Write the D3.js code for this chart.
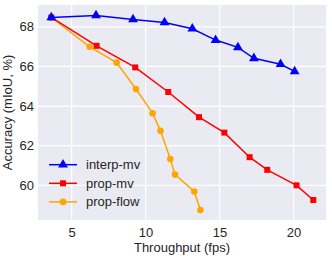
<!DOCTYPE html>
<html>
<meta charset="utf-8">
<script src="https://d3js.org/d3.v7.min.js"></script>
<style>
  body { margin: 0; background: #fff; }
  text { font-family: "Liberation Sans", Arial, sans-serif; fill: #262626; }
</style>
<body>
<div id="chart"></div>
<script>

// data
var interpX = [3.63, 6.65, 9.15, 11.28, 13.16, 14.73, 16.24, 17.32, 19.12, 20.07];
var interpY = [68.47, 68.57, 68.37, 68.22, 67.90, 67.33, 66.96, 66.41, 66.11, 65.75];
var propMvX = [3.63, 6.69, 9.30, 11.53, 13.61, 15.32, 17.03, 18.22, 20.20, 21.33];
var propMvY = [68.47, 67.04, 65.95, 64.71, 63.44, 62.66, 61.42, 60.78, 60.00, 59.26];
var flowX = [3.63, 6.22, 8.04, 9.35, 10.47, 11.01, 11.67, 11.99, 13.29, 13.70];
var flowY = [68.47, 66.99, 66.19, 64.86, 63.64, 62.75, 61.33, 60.54, 59.69, 58.75];
var xTicks = [5, 10, 15, 20];
var yTicks = [60, 62, 64, 66, 68];

var series = [
  {name: "interp-mv", xs: interpX, ys: interpY, color: "#0000ff", shape: d3.symbolTriangle, size: 42},
  {name: "prop-mv", xs: propMvX, ys: propMvY, color: "#ff0000", shape: d3.symbolSquare, size: 36},
  {name: "prop-flow", xs: flowX, ys: flowY, color: "#ffa500", shape: d3.symbolCircle, size: 34}
];

var W = 332, H = 256;
var margin = {top: 5, right: 6, bottom: 36, left: 38};
var width = W - margin.left - margin.right,
    height = H - margin.top - margin.bottom;

var svg = d3.select("#chart").append("svg")
    .attr("width", W).attr("height", H)
  .append("g")
    .attr("transform", "translate(" + margin.left + "," + margin.top + ")");

var x = d3.scaleLinear().domain([2.73, 22.19]).range([0, width]);
var y = d3.scaleLinear().domain([58.25, 69.1]).range([height, 0]);

svg.append("rect").attr("width", width).attr("height", height).attr("fill", "#eaeaf2");

// grid
svg.selectAll(".gx").data(xTicks).enter().append("line")
  .attr("x1", d => x(d)).attr("x2", d => x(d))
  .attr("y1", 0).attr("y2", height)
  .attr("stroke", "#fff").attr("stroke-width", 1.2);
svg.selectAll(".gy").data(yTicks).enter().append("line")
  .attr("y1", d => y(d)).attr("y2", d => y(d))
  .attr("x1", 0).attr("x2", width)
  .attr("stroke", "#fff").attr("stroke-width", 1.2);

// axes
var xAxis = svg.append("g")
  .attr("transform", "translate(0," + height + ")")
  .call(d3.axisBottom(x).tickValues(xTicks).tickSize(0).tickPadding(8));
var yAxis = svg.append("g")
  .call(d3.axisLeft(y).tickValues(yTicks).tickSize(0).tickPadding(4));
[xAxis, yAxis].forEach(function(a) {
  a.select(".domain").remove();
  a.selectAll("text").style("font-size", "13px").attr("fill", "#262626")
    .style("font-family", "'Liberation Sans', Arial, sans-serif");
});

svg.append("text")
  .attr("x", width / 2).attr("y", height + 32)
  .attr("text-anchor", "middle").style("font-size", "13px")
  .text("Throughput (fps)");
svg.append("text")
  .attr("transform", "translate(" + (-26) + "," + (height / 2) + ") rotate(-90)")
  .attr("text-anchor", "middle").style("font-size", "13px")
  .text("Accuracy (mIoU, %)");

var line = d3.line().x(d => x(d[0])).y(d => y(d[1]));

// draw last series first so blue ends on top
series.slice().reverse().forEach(function(s) {
  var pts = s.xs.map((v, i) => [v, s.ys[i]]);
  var g = svg.append("g");
  g.append("path").datum(pts)
    .attr("d", line).attr("fill", "none")
    .attr("stroke", s.color).attr("stroke-width", 1.5);
  g.selectAll("path.m").data(pts).enter().append("path")
    .attr("class", "m")
    .attr("transform", d => "translate(" + x(d[0]) + "," + y(d[1]) + ")")
    .attr("d", d3.symbol().type(s.shape).size(s.size))
    .attr("fill", s.color);
});

// legend
var leg = svg.append("g").attr("transform", "translate(11,159.7)");
series.forEach(function(s, i) {
  var row = leg.append("g").attr("transform", "translate(0," + (i * 18.6) + ")");
  row.append("line").attr("x1", 0).attr("x2", 28)
    .attr("stroke", s.color).attr("stroke-width", 1.5);
  row.append("path").attr("transform", "translate(14,0)")
    .attr("d", d3.symbol().type(s.shape).size(s.size)).attr("fill", s.color);
  row.append("text").attr("x", 37).attr("y", 0).attr("dy", "0.35em")
    .style("font-size", "13px").text(s.name);
});

</script>
</body>
</html>
